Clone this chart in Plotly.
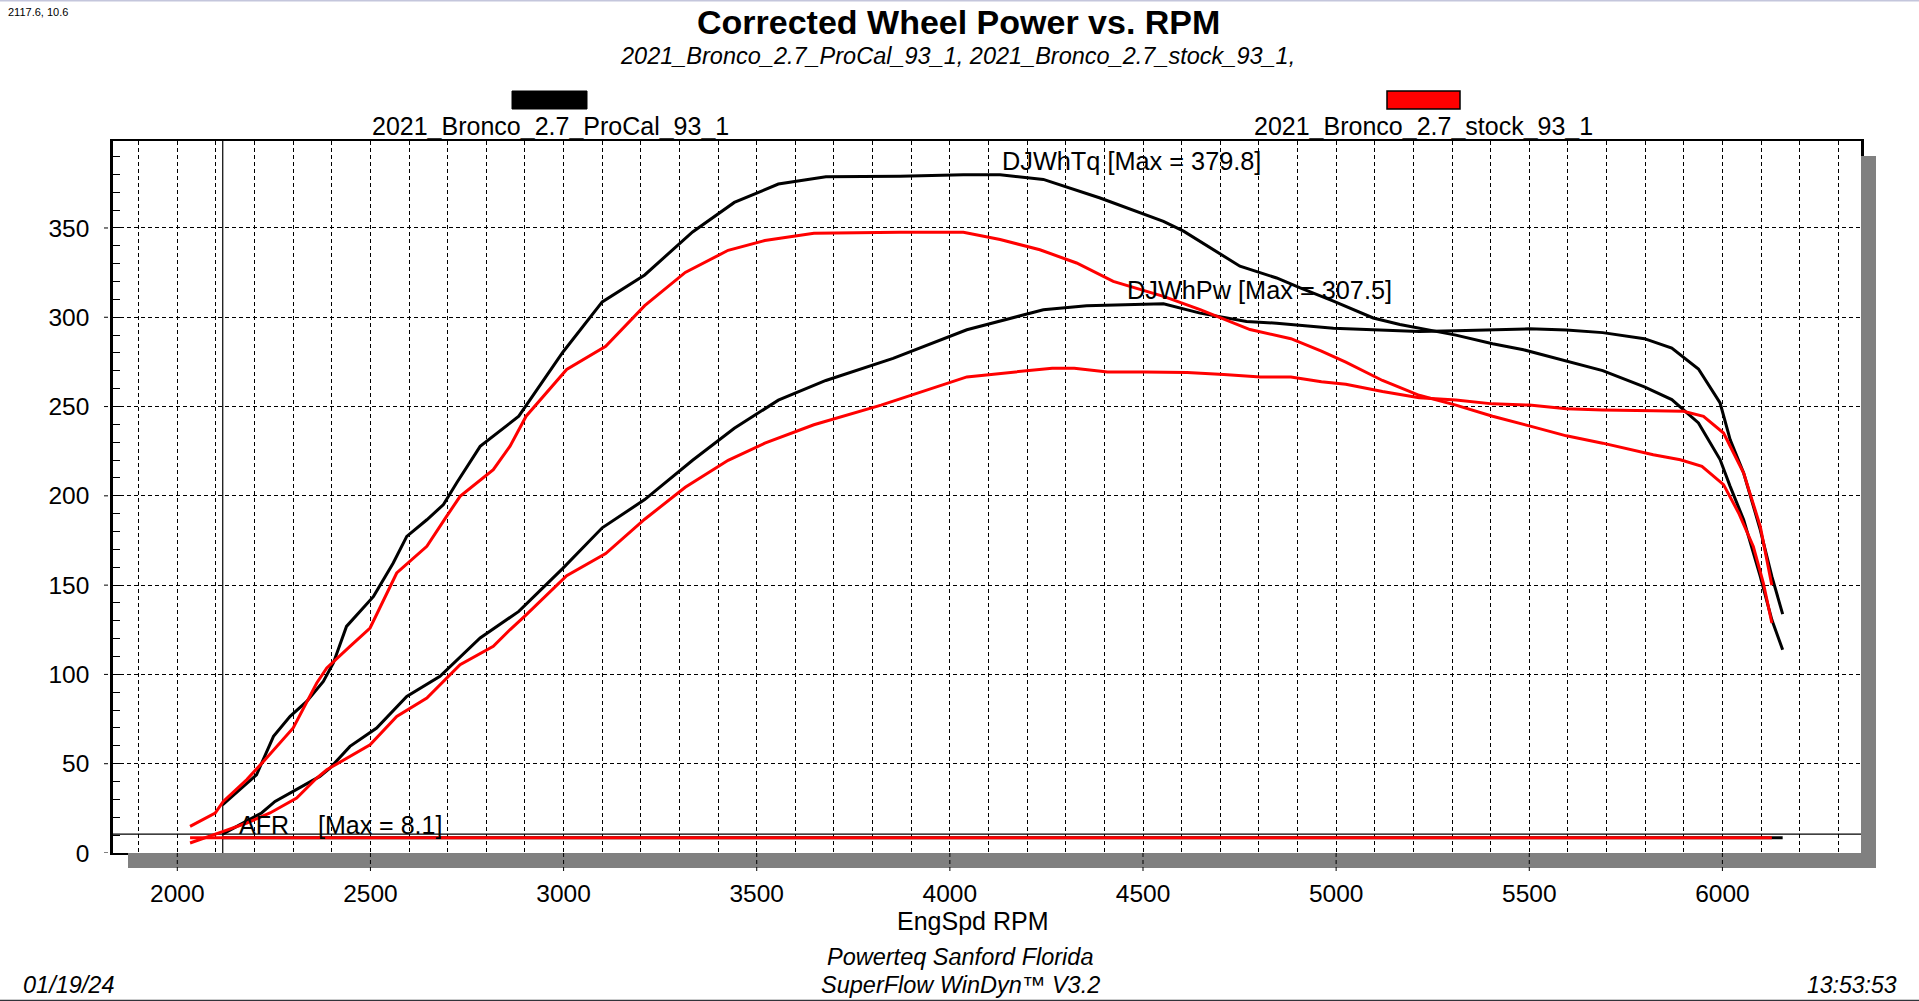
import plotly.graph_objects as go

# ---------------- data ----------------
rpm_procal_tq = [2117, 2205, 2249, 2292, 2335, 2378, 2404, 2438, 2508, 2559, 2594, 2646, 2689, 2723, 2784,
                 2884, 2998, 3100, 3210, 3334, 3442, 3556, 3679, 3871, 4035, 4130, 4242, 4389, 4553, 4605,
                 4751, 4846, 4907, 4993, 5096, 5165, 5310, 5405, 5485, 5596, 5690, 5798, 5869, 5938, 5994,
                 6020, 6055, 6098, 6128, 6156]
tq_procal = [27.0, 43.8, 65.3, 76.5, 84.9, 96.1, 106.4, 126.9, 143.7, 162.4, 177.3, 186.6, 195.1, 207.2, 227.7,
             244.6, 280.4, 308.6, 323.7, 347.8, 364.3, 374.6, 378.7, 378.9, 379.8, 379.8, 377.2, 366.8, 353.7, 348.2,
             328.6, 322.0, 316.4, 309.0, 299.6, 295.9, 290.0, 285.2, 281.8, 275.6, 270.1, 261.0, 253.9, 240.8, 220.3,
             205.3, 186.6, 154.9, 130.6, 113.8]

rpm_procal_pw = [2117, 2218, 2253, 2300, 2369, 2395, 2447, 2516, 2594, 2680, 2784, 2884, 2998, 3100, 3210,
                 3334, 3442, 3556, 3679, 3853, 4044, 4242, 4354, 4553, 4648, 4768, 4846, 4993, 5122, 5215,
                 5310, 5405, 5500, 5596, 5690, 5798, 5869, 5938, 5994, 6020, 6055, 6098, 6128, 6156]
pw_procal = [10.6, 22.4, 28.9, 34.5, 42.9, 47.5, 59.7, 70.0, 87.7, 98.9, 120.4, 135.3, 159.4, 182.1, 197.9,
             219.9, 237.8, 253.6, 264.6, 277.0, 293.0, 304.2, 306.4, 307.5, 302.3, 297.6, 296.7, 293.9, 293.0, 292.0,
             292.5, 293.0, 293.5, 292.8, 291.4, 288.0, 282.8, 271.0, 252.0, 231.5, 212.8, 181.0, 154.9, 133.8]

rpm_stock_tq = [2033, 2098, 2119, 2180, 2223, 2300, 2361, 2387, 2447, 2499, 2568, 2646, 2697, 2732, 2818,
                2861, 2903, 3008, 3109, 3210, 3315, 3426, 3521, 3648, 3871, 4035, 4130, 4233, 4328, 4423,
                4553, 4648, 4777, 4883, 4962, 5025, 5120, 5215, 5310, 5405, 5500, 5596, 5690, 5821, 5891,
                5947, 6003, 6042, 6080, 6106, 6128]
tq_stock = [14.9, 22.4, 28.9, 41.1, 51.3, 70.0, 95.2, 103.6, 115.7, 126.0, 156.8, 171.7, 188.5, 199.7, 214.7,
            227.7, 244.6, 270.8, 283.8, 306.5, 325.1, 337.5, 343.0, 347.1, 347.6, 347.6, 343.5, 337.8, 330.4, 320.1,
            311.7, 304.3, 293.1, 288.0, 281.1, 274.9, 264.6, 256.3, 250.8, 244.6, 239.2, 233.6, 229.5, 223.0, 220.2,
            216.5, 206.3, 190.4, 171.7, 151.2, 128.8]

rpm_stock_pw = [2033, 2098, 2119, 2180, 2240, 2309, 2361, 2387, 2439, 2499, 2568, 2646, 2732, 2818, 2861,
                2903, 3008, 3109, 3210, 3315, 3426, 3521, 3648, 3822, 4044, 4170, 4265, 4322, 4408, 4503,
                4614, 4709, 4804, 4883, 4962, 5025, 5120, 5215, 5310, 5405, 5500, 5596, 5690, 5821, 5899,
                5951, 6003, 6055, 6098, 6128]
pw_stock = [5.6, 10.2, 12.1, 16.8, 22.4, 30.8, 42.0, 46.6, 53.2, 60.6, 76.5, 86.8, 105.4, 115.7, 125.0,
            133.3, 155.3, 167.7, 186.9, 204.8, 219.9, 229.5, 239.8, 250.8, 266.6, 269.4, 271.5, 271.5, 269.4, 269.4,
            269.0, 268.0, 266.6, 266.6, 263.9, 262.5, 258.4, 254.9, 253.6, 251.5, 250.8, 248.8, 248.1, 247.7, 247.3,
            244.5, 235.2, 212.8, 182.9, 149.9]

rpm_procal_afr = [2117, 6156]
afr_procal = [8.5, 8.5]
rpm_stock_afr = [2033, 6128]
afr_stock = [8.5, 8.5]

cursor_rpm = 2117.6
cursor_val = 10.6

x_ticks = [2000, 2500, 3000, 3500, 4000, 4500, 5000, 5500, 6000]
y_ticks = [0, 50, 100, 150, 200, 250, 300, 350]
x_range = [1833.5, 6358.8]
y_range = [0, 398.7]

run_names = ["2021_Bronco_2.7_ProCal_93_1", "2021_Bronco_2.7_stock_93_1"]
run_colors = ["black", "#ff0000"]

# ---------------- layout geometry ----------------
W, H = 1919, 1001
L, R, T, B = 113, 58, 141, 148
PW = W - L - R
PH = H - T - B


def xp(px):
    return (px - L) / PW


def yp(py):
    return (H - B - py) / PH


FONT = "Arial, 'Liberation Sans', sans-serif"
DASH = "4px,3px"

fig = go.Figure()

line_w = 3
# black (ProCal) first, red (stock) on top
fig.add_trace(go.Scatter(x=rpm_procal_afr, y=afr_procal, mode="lines",
                         line=dict(color=run_colors[0], width=line_w), hoverinfo="skip"))
fig.add_trace(go.Scatter(x=rpm_procal_tq, y=tq_procal, mode="lines",
                         line=dict(color=run_colors[0], width=line_w), name="DJWhTq"))
fig.add_trace(go.Scatter(x=rpm_procal_pw, y=pw_procal, mode="lines",
                         line=dict(color=run_colors[0], width=line_w), name="DJWhPw"))
fig.add_trace(go.Scatter(x=rpm_stock_afr, y=afr_stock, mode="lines",
                         line=dict(color=run_colors[1], width=line_w), hoverinfo="skip"))
fig.add_trace(go.Scatter(x=rpm_stock_tq, y=tq_stock, mode="lines",
                         line=dict(color=run_colors[1], width=line_w), name="DJWhTq"))
fig.add_trace(go.Scatter(x=rpm_stock_pw, y=pw_stock, mode="lines",
                         line=dict(color=run_colors[1], width=line_w), name="DJWhPw"))

shapes = []
# drop shadow (outside plot area only)
shapes.append(dict(type="rect", xref="paper", yref="paper", x0=1, x1=xp(1876), y0=yp(868), y1=yp(156),
                   fillcolor="#808080", line=dict(width=0), layer="above"))
shapes.append(dict(type="rect", xref="paper", yref="paper", x0=xp(128), x1=xp(1876), y0=yp(868), y1=0,
                   fillcolor="#808080", line=dict(width=0), layer="above"))
# dashed major tick extensions
for xv in x_ticks:
    shapes.append(dict(type="line", xref="x", yref="paper", x0=xv, x1=xv, y0=0, y1=yp(874),
                       line=dict(color="black", width=1, dash=DASH), layer="above"))
for yv in y_ticks:
    shapes.append(dict(type="line", xref="paper", yref="y", x0=xp(104), x1=0, y0=yv, y1=yv,
                       line=dict(color="black", width=1, dash=DASH), layer="above"))
# cursor cross-hair
shapes.append(dict(type="line", xref="x", yref="paper", x0=cursor_rpm, x1=cursor_rpm, y0=0, y1=1,
                   line=dict(color="black", width=1.2), layer="below"))
shapes.append(dict(type="line", xref="paper", yref="y", x0=0, x1=1, y0=cursor_val, y1=cursor_val,
                   line=dict(color="black", width=1.2), layer="below"))
# legend swatches
shapes.append(dict(type="rect", xref="paper", yref="paper", x0=xp(512), x1=xp(587), y0=yp(109), y1=yp(91),
                   fillcolor=run_colors[0], line=dict(color="black", width=1), layer="above"))
shapes.append(dict(type="rect", xref="paper", yref="paper", x0=xp(1387), x1=xp(1460), y0=yp(109), y1=yp(91),
                   fillcolor=run_colors[1], line=dict(color="black", width=1.5), layer="above"))
# window edge lines
shapes.append(dict(type="line", xref="paper", yref="paper", x0=xp(0), x1=xp(W), y0=yp(0.5), y1=yp(0.5),
                   line=dict(color="#c4c6dc", width=2), layer="above"))
shapes.append(dict(type="line", xref="paper", yref="paper", x0=xp(0), x1=xp(W), y0=yp(1000.5), y1=yp(1000.5),
                   line=dict(color="#30343a", width=1.5), layer="above"))

annotations = []


def txt(text, x, y, size, xanchor="center", color="black"):
    annotations.append(dict(text=text, xref="paper", yref="paper", x=xp(x), y=yp(y),
                            xanchor=xanchor, yanchor="middle", showarrow=False,
                            font=dict(family=FONT, size=size, color=color)))


txt("<b>Corrected Wheel Power vs. RPM</b>", 958, 22, 34)
txt("<i>" + run_names[0] + ", " + run_names[1] + ",</i>", 957, 56, 23.5)
txt(run_names[0], 550, 126, 25)
txt(run_names[1], 1423.5, 126, 25)
txt("DJWhTq [Max = 379.8]", 1000, 161, 25.3, xanchor="left")
txt("DJWhPw [Max = 307.5]", 1125, 290, 25.3, xanchor="left")
txt("AFR", 237, 825, 25, xanchor="left")
txt("[Max = 8.1]", 316, 825, 25, xanchor="left")
txt("EngSpd RPM", 972.5, 921, 25)
txt("<i>Powerteq Sanford Florida</i>", 960, 957, 23.5)
txt("<i>SuperFlow WinDyn™ V3.2</i>", 960, 985, 23.5)
txt("<i>01/19/24</i>", 68.5, 985, 23.5)
txt("<i>13:53:53</i>", 1851.5, 985, 23)
txt("2117.6, 10.6", 6, 12, 11, xanchor="left")

fig.update_layout(
    width=W, height=H, autosize=False,
    margin=dict(l=L, r=R, t=T, b=B, pad=0),
    paper_bgcolor="white", plot_bgcolor="white",
    showlegend=False,
    font=dict(family=FONT, color="black"),
    shapes=shapes, annotations=annotations,
    xaxis=dict(range=x_range, tickmode="array", tickvals=x_ticks, ticks="",
               showgrid=True, gridcolor="black", gridwidth=1, griddash=DASH,
               minor=dict(dtick=100, tick0=0, showgrid=True, gridcolor="black", gridwidth=1,
                          griddash=DASH, ticks=""),
               showline=True, linecolor="black", linewidth=1.5, mirror=True,
               zeroline=False, tickfont=dict(size=24.5, family=FONT), ticklabelstandoff=18),
    yaxis=dict(range=y_range, tickmode="array", tickvals=y_ticks, ticks="",
               showgrid=True, gridcolor="black", gridwidth=1, griddash=DASH,
               minor=dict(dtick=10, tick0=0, ticks="inside", ticklen=7, tickcolor="black",
                          tickwidth=1, showgrid=False),
               showline=True, linecolor="black", linewidth=2.5, mirror=True,
               zeroline=False, tickfont=dict(size=24.5, family=FONT), ticklabelstandoff=16),
)

fig.write_html("out.html")
